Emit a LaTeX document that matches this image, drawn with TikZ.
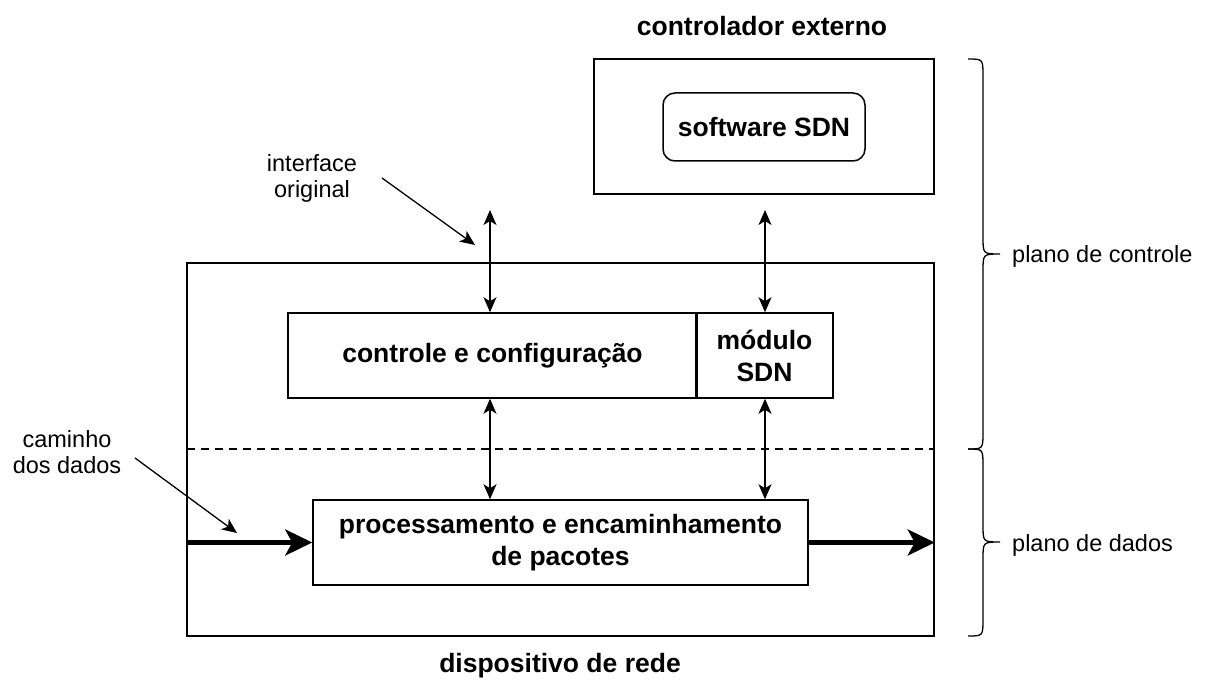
\documentclass[tikz,border=0pt]{standalone}
\usepackage{fontspec}
\setmainfont{Liberation Sans}
\usetikzlibrary{arrows.meta}
\begin{document}
\begin{tikzpicture}[x=1pt,y=-1pt,
  box/.style={draw,line width=1.5pt,inner sep=0pt,align=center,
    font=\fontsize{26.5}{32}\selectfont\bfseries},
  boldlbl/.style={inner sep=0pt,align=center,font=\fontsize{26.5}{32}\selectfont\bfseries},
  lbl/.style={inner sep=0pt,align=center,font=\fontsize{23.5}{26}\selectfont},
  biarrow/.style={line width=1.3pt,{Stealth[length=15pt,width=13pt,inset=4pt]}-{Stealth[length=15pt,width=13pt,inset=4pt]}},
  pointer/.style={line width=1.3pt,-{Stealth[length=15pt,width=13pt,inset=4pt]}},
  flow/.style={line width=4.5pt,-{Stealth[length=27pt,width=26pt,inset=7pt]}},
  bracepath/.style={line width=1.3pt},
]
\useasboundingbox (0,0) rectangle (1205,684);
\fill[white] (0,0) rectangle (1205,684);

% controller
\node[box,minimum width=340pt,minimum height=135pt] (ctrl) at (764,126.5) {};
\node[box,rounded corners=12pt,minimum width=202pt,minimum height=68pt] (sw) at (764,127) {software SDN};
\node[boldlbl] (ctitle) at (762,26) {controlador externo};

% device
\node[box,minimum width=747pt,minimum height=373pt] (dev) at (560.5,449.5) {};
\node[box,minimum width=409pt,minimum height=85pt] (cc) at (492.5,355.5) {controle e configuração};
\node[box,minimum width=137pt,minimum height=85pt] (mod) at (764.5,355.5) {módulo\\SDN};
\node[box,minimum width=495pt,minimum height=85pt] (proc) at (560.5,542.5) {processamento e encaminhamento\\de pacotes};
\node[boldlbl] (dtitle) at (560,666) {dispositivo de rede};

% dashed separation
\coordinate (dl) at (187,449);
\draw[line width=1.2pt,dash pattern=on 8pt off 6pt] (dl) -- (dl -| dev.east);

% vertical arrows
\coordinate (ia) at (490,210);
\coordinate (ma) at (765,210);
\draw[biarrow] (ia) -- (ia |- cc.north);
\draw[biarrow] (ma) -- (ma |- mod.north);
\draw[biarrow] (ia |- cc.south) -- (ia |- proc.north);
\draw[biarrow] (ma |- mod.south) -- (ma |- proc.north);

% data path
\draw[flow] (dev.west |- proc) -- (proc.west);
\draw[flow] (proc.east) -- (dev.east |- proc);

% annotations
\node[lbl] (iface) at (312,178) {interface\\original};
\coordinate (ifs) at (382,178);
\coordinate (ife) at (475,245);
\draw[pointer] (ifs) -- (ife);

\node[lbl] (cam) at (67,452) {caminho\\dos dados};
\coordinate (cas) at (135,458);
\coordinate (cae) at (237,533);
\draw[pointer] (cas) -- (cae);

% braces
\draw[bracepath] (968,59) .. controls (983,59) .. (983,76) -- (983,237)
  .. controls (983,254) .. (1000,254) .. controls (983,254) .. (983,271)
  -- (983,432) .. controls (983,449) .. (968,449);
\draw[bracepath] (968,449) .. controls (983,449) .. (983,466) -- (983,525)
  .. controls (983,542) .. (1000,542) .. controls (983,542) .. (983,559)
  -- (983,619) .. controls (983,636) .. (968,636);
\node[lbl,anchor=west] (pc) at (1012,256) {plano de controle};
\node[lbl,anchor=west] (pd) at (1012,545) {plano de dados};
\end{tikzpicture}
\end{document}
